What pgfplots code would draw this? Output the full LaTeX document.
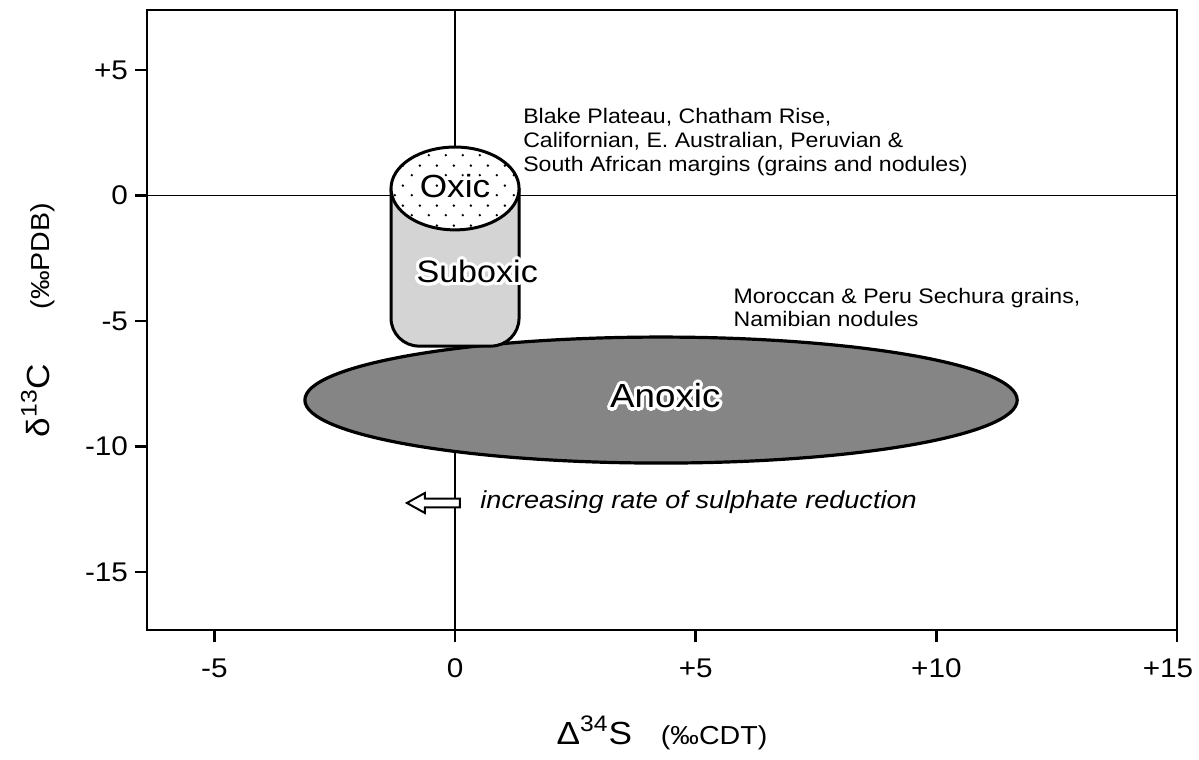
\documentclass[border=0pt]{standalone}
\usepackage{pgfplots}
\pgfplotsset{compat=1.18}
\usepackage{fontspec}
\setmainfont{Liberation Sans}[FakeStretch=1.1]
\usetikzlibrary{patterns.meta}
\usepackage[copies]{contour}
\contourlength{1.6pt}
\contournumber{24}

\tikzdeclarepattern{
  name=oxicdots,
  type=uncolored,
  bottom left={(0pt,0pt)},
  top right={(8.5pt,10pt)},
  tile size={(8.5pt,10pt)},
  code={
    \fill (2pt,2.5pt) circle (0.7pt);
    \fill (6.25pt,7.5pt) circle (0.7pt);
  }
}

\begin{document}
\begin{tikzpicture}
\begin{axis}[
  name=ax,
  scale only axis, width=515pt, height=310pt,
  xmin=-6.4, xmax=15, ymin=-17.31, ymax=7.39,
  axis line style={line width=1.4pt},
  xtick={-5,0,5,10,15}, xticklabels={-5,0,+5,+10,+15\hspace*{9pt}},
  ytick={-15,-10,-5,0,5}, yticklabels={-15,-10,-5,0,+5},
  tick align=outside, xtick pos=bottom, ytick pos=left,
  major tick length=6pt,
  every tick/.append style={black, line width=1.2pt},
  tick label style={font=\fontsize{13.5}{15}\selectfont},
  xticklabel style={yshift=-5pt},
  xlabel={Δ\textsuperscript{34}S\hspace{0.9em}{\fontsize{13}{15}\selectfont(‰CDT)}},
  ylabel={δ\textsuperscript{13}C\hspace{1.7em}{\fontsize{13}{15}\selectfont(‰PDB)}},
  xlabel style={font=\fontsize{16}{18}\selectfont, at={(axis description cs:0.5,-0.166)}, anchor=center},
  ylabel style={font=\fontsize{16}{18}\selectfont, at={(axis description cs:-0.106,0.5)}, anchor=center},
  clip=false,
]
% zero lines
\addplot[black, line width=0.7pt, mark=none] coordinates {(0,-17.31) (0,7.39)};
\addplot[black, line width=0.7pt, mark=none] coordinates {(-6.4,0) (15,0)};

% Anoxic field
\draw[line width=1.6pt, fill=black!48] (axis cs:4.28,-8.15) ellipse [x radius=7.4, y radius=2.51];

% Suboxic cylinder body
\draw[line width=1.5pt, fill=black!17, rounded corners=14pt]
  (axis cs:-1.33,0.28) -- (axis cs:-1.33,-6.0) -- (axis cs:1.33,-6.0) -- (axis cs:1.33,0.28);

% Oxic top
\fill[white] (axis cs:0,0.28) ellipse [x radius=1.33, y radius=1.65];
\fill[pattern=oxicdots, pattern color=black] (axis cs:0,0.28) ellipse [x radius=1.33, y radius=1.65];
\draw[line width=1.5pt] (axis cs:0,0.28) ellipse [x radius=1.33, y radius=1.65];

% labels
\node[font=\fontsize{16}{18}\selectfont] at (axis cs:0,0.3) {\contour{white}{Oxic}};
\node[font=\fontsize{15.5}{18}\selectfont] at (axis cs:0.46,-3.1) {\contour{white}{Suboxic}};
\node[font=\fontsize{16.7}{19}\selectfont] at (axis cs:4.37,-8.05) {\contour{white}{Anoxic}};

\node[anchor=north west, inner sep=0pt, align=left, font=\fontsize{10.5}{12}\selectfont]
  at (axis cs:1.41,3.49) {Blake Plateau, Chatham Rise,\\Californian, E. Australian, Peruvian \&\\South African margins (grains and nodules)};
\node[anchor=north west, inner sep=0pt, align=left, font=\fontsize{10.5}{11.5}\selectfont]
  at (axis cs:5.78,-3.69) {Moroccan \& Peru Sechura grains,\\Namibian nodules};

% arrow
\draw[line width=1pt, fill=white] (axis cs:-1.0,-12.25) -- ++(9pt,5pt) -- ++(0pt,-2.8pt) -- ++(17.5pt,0pt) -- ++(0pt,-4.4pt) -- ++(-17.5pt,0pt) -- ++(0pt,-2.8pt) -- cycle;
\node[anchor=west, inner sep=0pt, font=\fontsize{12.3}{14}\selectfont\itshape] at (axis cs:0.52,-12.2) {increasing rate of sulphate reduction};
\end{axis}
\pgfresetboundingbox
\path (ax.south west) ++(-73.5pt,-65pt) rectangle ++(599.5pt,380pt);
\end{tikzpicture}
\end{document}
